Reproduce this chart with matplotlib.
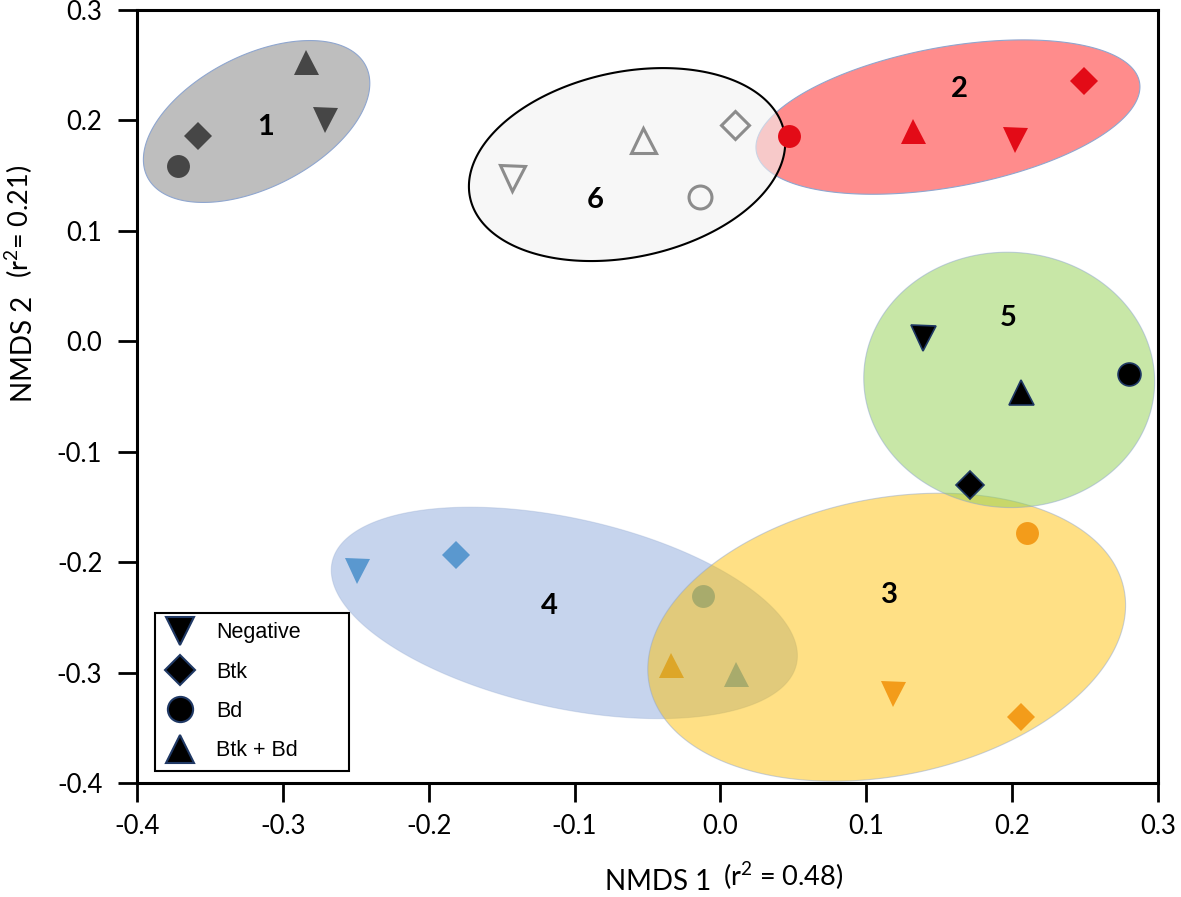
import numpy as np
import matplotlib
matplotlib.use('Agg')
import matplotlib.pyplot as plt
from matplotlib.lines import Line2D

plt.rcParams['font.family'] = 'Lato'
plt.rcParams['axes.unicode_minus'] = False
plt.rcParams['mathtext.fontset'] = 'custom'
plt.rcParams['mathtext.rm'] = 'Lato'
plt.rcParams['mathtext.it'] = 'Lato:italic'

# marker order inside every group: Negative, Btk, Bd, Btk + Bd
treatments = ['Negative', 'Btk', 'Bd', 'Btk + Bd']
shapes = ['v', 'D', 'o', '^']

g1_x = [-0.271, -0.358, -0.372, -0.284]
g1_y = [0.200, 0.186, 0.159, 0.253]
g2_x = [0.202, 0.249, 0.047, 0.132]
g2_y = [0.182, 0.236, 0.186, 0.190]
g3_x = [0.118, 0.206, 0.210, -0.034]
g3_y = [-0.319, -0.340, -0.174, -0.293]
g4_x = [-0.249, -0.181, -0.012, 0.011]
g4_y = [-0.208, -0.194, -0.231, -0.301]
g5_x = [0.139, 0.171, 0.280, 0.206]
g5_y = [0.003, -0.130, -0.030, -0.046]
g6_x = [-0.143, 0.010, -0.014, -0.053]
g6_y = [0.148, 0.196, 0.131, 0.182]

group_names = ['1', '2', '3', '4', '5', '6']
label_x = [-0.312, 0.164, 0.116, -0.117, 0.197, -0.086]
label_y = [0.194, 0.228, -0.230, -0.240, 0.021, 0.128]

# ellipse: centre x, centre y, width, height (in x units), angle on screen
ell_cx = [-0.318, 0.156, 0.114, -0.107, 0.198, -0.064]
ell_cy = [0.199, 0.203, -0.268, -0.246, -0.035, 0.160]
ell_w = [0.168, 0.267, 0.332, 0.326, 0.1995, 0.220]
ell_h = [0.0905, 0.096, 0.190, 0.130, 0.175, 0.127]
ell_ang = [27, 10.3, 11.4, -12.4, -3, 11.9]

ticks = [-0.4, -0.3, -0.2, -0.1, 0.0, 0.1, 0.2, 0.3]
tick_labels = ['-0.4', '-0.3', '-0.2', '-0.1', '0.0', '0.1', '0.2', '0.3']

msize = {'v': 18, '^': 18, 'D': 14, 'o': 16.5}

fig = plt.figure(figsize=(11.81, 8.97), dpi=100)
pos = [0.116, 0.1271, 0.8645, 0.8618]
ax = fig.add_axes(pos)
ax.set_xlim(-0.4, 0.3)
ax.set_ylim(-0.4, 0.3)

# y units per x unit on screen, so ellipses are not squashed
k = (pos[2] * 11.81) / (pos[3] * 8.97)


def ellipse(i, **kw):
    t = np.linspace(0, 2 * np.pi, 300)
    ex = ell_w[i] / 2 * np.cos(t)
    ey = ell_h[i] / 2 * np.sin(t)
    a = np.deg2rad(ell_ang[i])
    rx = ex * np.cos(a) - ey * np.sin(a)
    ry = ex * np.sin(a) + ey * np.cos(a)
    ax.fill(ell_cx[i] + rx, ell_cy[i] + ry * k, **kw)


def points(xs, ys, color, z, **kw):
    for x, y, m in zip(xs, ys, shapes):
        ax.plot(x, y, marker=m, ms=msize[m], color=color, ls='none', zorder=z, **kw)


edge = '#8fa6cf'

# group 1
ellipse(0, fc='#bebebe', ec=edge, lw=0.8, zorder=1)
points(g1_x, g1_y, '#464646', 2, mew=0)

# group 2 and 6
ellipse(1, fc='#ff0000', alpha=0.45, ec='none', zorder=1)
ellipse(1, fc='none', ec=edge, lw=0.8, zorder=1.1)
ellipse(5, fc='#f2f2f2', alpha=0.6, ec='none', zorder=1.5)
ellipse(5, fc='none', ec='black', lw=1.5, zorder=1.6)
points(g2_x, g2_y, '#e30b17', 3, mew=0)
points(g6_x, g6_y, '#8c8c8c', 3, mfc='none', mew=2.2)

# group 4 and 3 overlap
ax.plot(g3_x[3], g3_y[3], marker=shapes[3], ms=msize[shapes[3]], color='#f39c1a',
        ls='none', mew=0, zorder=1)
ellipse(3, fc='#4472c4', alpha=0.3, ec=edge, lw=0.8, zorder=1.2)
points(g4_x, g4_y, '#5a98cf', 1.3, mew=0)
ellipse(2, fc='#ffc000', alpha=0.48, ec=edge, lw=0.8, zorder=1.4)
points(g3_x[:3], g3_y[:3], '#f39c1a', 3, mew=0)

# group 5
ellipse(4, fc='#92d050', alpha=0.5, ec=edge, lw=0.8, zorder=1.5)
points(g5_x, g5_y, 'black', 3, mec='#1f3864', mew=1.2)

for name, x, y in zip(group_names, label_x, label_y):
    ax.text(x, y, name, ha='center', va='center', fontsize=21, fontweight='bold', zorder=5)

ax.set_xticks(ticks)
ax.set_xticklabels(tick_labels)
ax.set_yticks(ticks)
ax.set_yticklabels(tick_labels)
ax.tick_params(direction='out', length=14, width=2, labelsize=18.5)
ax.tick_params(axis='x', pad=8)
ax.tick_params(axis='y', pad=11)
for s in ax.spines.values():
    s.set_linewidth(2.2)

# axis titles with the r^2 part in smaller type
fig.text(605 / 1181, 1 - 890 / 897, 'NMDS 1', fontsize=20, ha='left', va='baseline')
fig.text(723 / 1181, 1 - 886 / 897, r'(r$^{\mathrm{2}}$ = 0.48)', fontsize=19.5,
         ha='left', va='baseline')
fig.text(32 / 1181, 1 - 402 / 897, 'NMDS 2', fontsize=20, ha='left', va='baseline',
         rotation=90, rotation_mode='anchor')
fig.text(29 / 1181, 1 - 278 / 897, r'(r$^{\mathrm{2}}$= 0.21)', fontsize=19.5,
         ha='left', va='baseline', rotation=90, rotation_mode='anchor')

handles = [Line2D([], [], marker=m, ls='none', color='black', mec='#1f3864', mew=1.5,
                  ms=msize[m] * 1.1) for m in shapes]
leg = ax.legend(handles, treatments, loc='lower left', bbox_to_anchor=(0.0176, 0.0155, 0.19, 0.2),
                mode='expand', borderaxespad=0, fancybox=False, framealpha=1, edgecolor='black',
                prop={'family': 'Liberation Sans', 'size': 15.5}, labelspacing=0.85,
                handlelength=1.4, handletextpad=1.0, borderpad=0.45)
leg.get_frame().set_linewidth(1.5)
leg.set_zorder(6)

fig.savefig('out.png', dpi=100)
